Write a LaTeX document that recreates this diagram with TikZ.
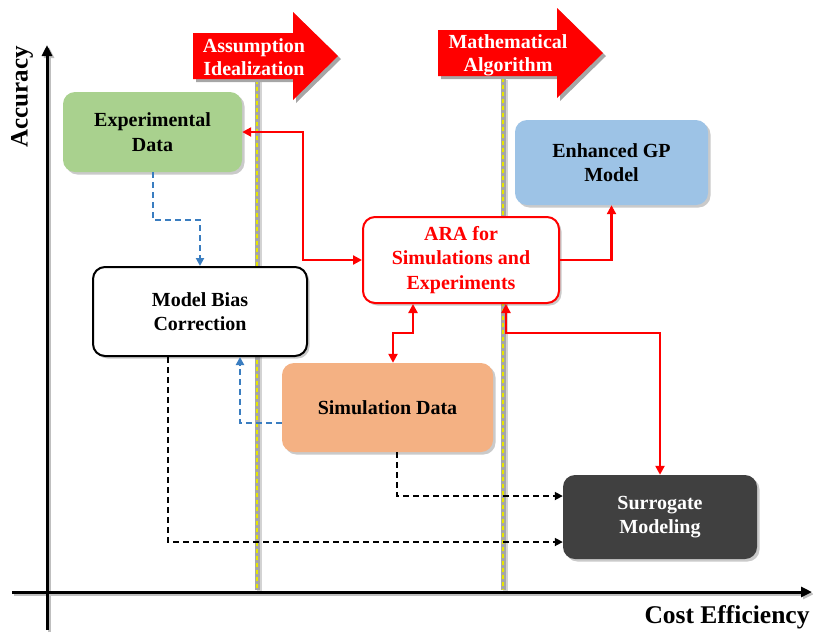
\documentclass[tikz,border=0pt]{standalone}
\usepackage{fontspec}
\setmainfont{Liberation Serif}
\usetikzlibrary{arrows.meta,shadows}
\definecolor{expgreen}{HTML}{A9D18E}
\definecolor{simorange}{HTML}{F4B183}
\definecolor{gpblue}{HTML}{9DC3E6}
\definecolor{surdark}{HTML}{404040}
\definecolor{flowblue}{HTML}{3A7DC0}
\definecolor{divgray}{HTML}{A6A6A6}
\definecolor{divyellow}{HTML}{E6E600}
\begin{document}
\begin{tikzpicture}[x=1pt,y=-1pt,
  box/.style={rounded corners=12pt,align=center,font=\fontsize{20}{24.5}\selectfont\bfseries,
    drop shadow={shadow xshift=2.5pt,shadow yshift=-2.5pt,opacity=0.35,fill=black!60}},
  redflow/.style={draw=red,line width=2.4pt,{Triangle[width=9pt,length=9pt]}-{Triangle[width=9pt,length=9pt]}},
  redone/.style={draw=red,line width=2.4pt,-{Triangle[width=9pt,length=9pt]}},
  blueflow/.style={draw=flowblue,line width=2pt,dash pattern=on 6pt off 4pt,-{Triangle[width=8pt,length=8pt]}},
  blackflow/.style={draw=black,line width=1.7pt,dash pattern=on 6pt off 4pt,-{Triangle[width=8pt,length=8pt]}},
  axisline/.style={line width=3pt,-{Triangle[width=10pt,length=11pt]}},
  arrowtext/.style={text=white,align=center,font=\fontsize{20}{23}\selectfont\bfseries},
  divider/.style={draw=divgray,line width=5pt},
  dividerdash/.style={draw=divyellow,line width=1.6pt,dash pattern=on 4pt off 3pt}
]
\useasboundingbox (0,0) rectangle (813,633);

% axes with a faint shadow
\draw[axisline,black!25] (49,632) -- (49,47);
\draw[axisline,black!25] (14,594) -- (814,594);
\draw[axisline] (47,630) -- (47,45);
\draw[axisline] (12,592) -- (812,592);
\node[rotate=90,font=\fontsize{25}{28}\selectfont\bfseries] (ylab) at (22,97) {Accuracy};
\node[font=\fontsize{25.5}{28}\selectfont\bfseries] (xlab) at (727,617) {Cost Efficiency};

% vertical dividers
\foreach \xx/\yy in {257/80,503/78}{
  \draw[divgray!50,line width=5pt] (\xx+2,\yy+2) -- (\xx+2,591);
  \draw[divider] (\xx,\yy) -- (\xx,590);
  \draw[dividerdash] (\xx,\yy) -- (\xx,590);
}

% big red arrows
\fill[black!35] (196,36) -- (296,36) -- (296,15) -- (341,59) -- (296,103) -- (296,82) -- (196,82) -- cycle;
\fill[red] (193,33) -- (293,33) -- (293,12) -- (338,56) -- (293,100) -- (293,79) -- (193,79) -- cycle;
\node[arrowtext] (arrA) at (254,57) {Assumption\\Idealization};
\fill[black!35] (441,33) -- (560,33) -- (560,11) -- (606,56) -- (560,101) -- (560,79) -- (441,79) -- cycle;
\fill[red] (438,30) -- (557,30) -- (557,8) -- (603,53) -- (557,98) -- (557,76) -- (438,76) -- cycle;
\node[arrowtext] (arrM) at (508,55) {Mathematical\\Algorithm};

% boxes
\node[box,fill=expgreen,minimum width=179pt,minimum height=80pt] (exp) at (152.5,132) {Experimental\\Data};
\node[box,fill=white,draw=black,line width=2pt,minimum width=214pt,minimum height=89pt] (mbc) at (200,311.5) {Model Bias\\Correction};
\node[box,fill=simorange,minimum width=211pt,minimum height=89pt] (sim) at (387.5,407.5) {Simulation Data};
\node[box,fill=white,draw=red,line width=2pt,text=red,minimum width=196pt,minimum height=86pt] (ara) at (461,260) {ARA for\\Simulations and\\Experiments};
\node[box,fill=gpblue,minimum width=193pt,minimum height=85pt] (gp) at (611.5,162.5) {Enhanced GP\\Model};
\node[box,fill=surdark,text=white,minimum width=194pt,minimum height=84pt] (sur) at (660,517) {Surrogate\\Modeling};

% red links
\draw[redflow] (exp.east) -- (303,132) |- (ara.west);
\draw[redone] (ara.east) -| (gp.south);
\draw[redflow] (ara.south -| 413,0) -- (413,333) -| (sim.north -| 393,0);
\draw[redflow] (ara.south -| 506,0) -- (506,333) -| (sur.north);

% blue dashed links
\draw[blueflow] (exp.south -| 153,0) -- (153,220) -| (mbc.north);
\draw[blueflow] (sim.west |- 0,423) -| (mbc.south -| 240,0);

% black dashed links
\draw[blackflow] (mbc.south -| 168,0) |- (sur.west |- 0,542);
\draw[blackflow] (sim.south -| 397,0) |- (sur.west |- 0,496);
\end{tikzpicture}
\end{document}
